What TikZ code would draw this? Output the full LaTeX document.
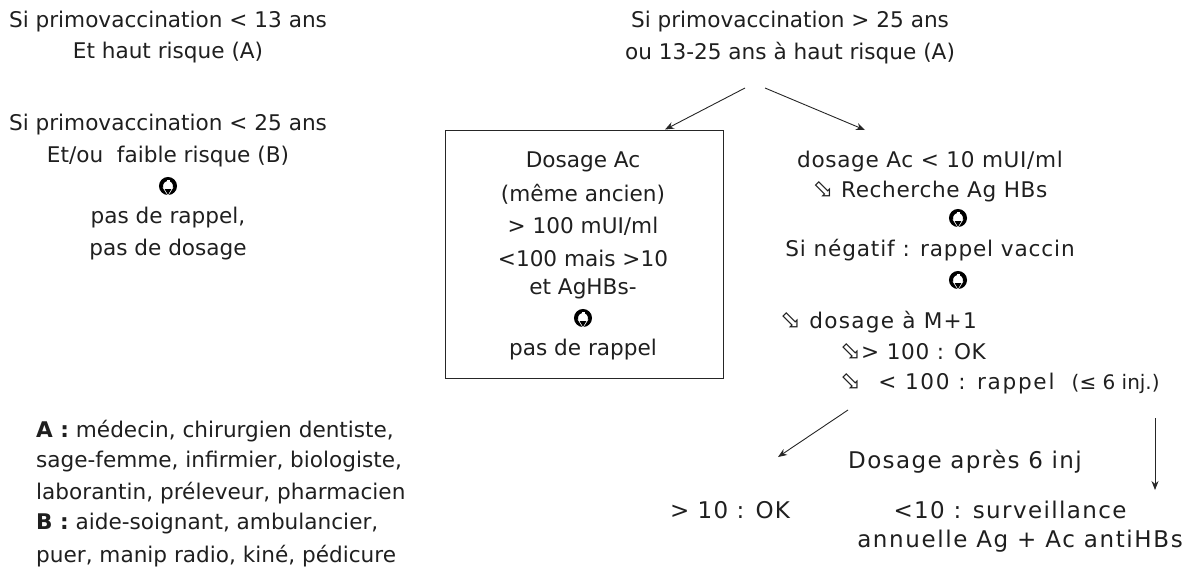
\documentclass[tikz,border=0pt]{standalone}
\usepackage{fontspec}
\setmainfont{DejaVu Sans}
\usetikzlibrary{arrows.meta}
\tikzset{
  txt/.style={inner sep=0pt, font=\fontsize{21.6}{26}\selectfont, text=black!88},
  lft/.style={txt, anchor=west},
  wide/.style={font=\fontsize{21.6}{26}\selectfont\addfontfeature{LetterSpace=#1}},
  big/.style={font=\fontsize{23}{27}\selectfont\addfontfeature{LetterSpace=#1}},
  arr/.style={draw=black!85, line width=0.9pt, -{Stealth[length=9pt,width=7pt]}},
  circarrow/.pic={
    \draw[line width=4pt] (0,0) circle (7);
    \draw[line width=3pt, white] (0,-6) -- (0,2.5);
    \fill[white] (-5.4,1.4) -- (5.4,1.4) -- (0,10) -- cycle;
    \fill[black] (-3.4,3) -- (3.4,3) -- (0,8.8) -- cycle;
  }
}
\newcommand\harr{{\fontsize{25}{26}\selectfont\addfontfeature{LetterSpace=0}\char"2B02}}
\begin{document}
\begin{tikzpicture}[x=1pt,y=-1pt]
\useasboundingbox (0,0) rectangle (1199,584);
% top left
\node[txt] (l1) at (168,22) {Si primovaccination < 13 ans};
\node[txt] (l2) at (168,53) {Et haut risque (A)};
\node[txt] (l3) at (168,125) {Si primovaccination < 25 ans};
\node[txt] (l4) at (168,157) {Et/ou\ \ faible risque (B)};
\pic at (168,186) {circarrow};
\node[txt] (l5) at (168,218) {pas de rappel,};
\node[txt] (l6) at (168,250) {pas de dosage};
% top right
\node[txt] (r1) at (790,22) {Si primovaccination > 25 ans};
\node[txt] (r2) at (790,53) {ou 13-25 ans à haut risque (A)};
\coordinate (sa) at (745,88);
\coordinate (sb) at (765,88);
% box
\node[draw=black!85, line width=0.9pt, minimum width=278pt, minimum height=248pt, inner sep=0pt] (box) at (584,254) {};
\node[txt] (b1) at (583,162) {Dosage Ac};
\node[txt] (b2) at (583,194) {(même ancien)};
\node[txt] (b3) at (583,226) {> 100 mUI/ml};
\node[txt] (b4) at (583,258) {<100 mais >10};
\node[txt] (b5) at (583,289) {et AgHBs-};
\pic at (583,318) {circarrow};
\node[txt] (b6) at (583,350) {pas de rappel};
% right column
\node[txt, wide=3] (c1) at (930,162) {dosage Ac < 10 mUI/ml};
\node[txt, wide=3] (c2) at (930,192) {\harr\ Recherche Ag HBs};
\pic at (958,218) {circarrow};
\node[txt, wide=4] (c3) at (930,250) {Si négatif : rappel vaccin};
\pic at (958,280) {circarrow};
\node[lft, wide=6] (c4) at (780,322) {\harr\ dosage à M+1};
\node[lft, wide=3] (c5) at (840,352) {\harr> 100 : OK};
\node[lft, wide=8] (c6) at (840,384) {\harr\ \ < 100 : rappel\ \ {\fontsize{20}{22}\selectfont\addfontfeature{LetterSpace=0}(≤ 6 inj.)}};
\draw[arr] (sa) -- (box.north -| 665,0);
\draw[arr] (sb) -- (865,130);
% bottom
\coordinate (d1) at (848,410);
\coordinate (d2) at (1155,418);
\node[txt, big=6] (e1) at (965,462) {Dosage après 6 inj};
\node[txt, big=5] (e2) at (730,510) {> 10 : OK};
\node[txt, big=6] (e3) at (1010,510) {<10 : surveillance};
\node[txt, big=7] (e4) at (1020,541) {annuelle Ag + Ac antiHBs};
\draw[arr] (d1) -- (778,457);
\draw[arr] (d2) -- (1155,490);
% legend
\node[lft] (g1) at (36,431) {\textbf{A :} médecin, chirurgien dentiste,};
\node[lft] (g2) at (36,462) {sage-femme, infirmier, biologiste,};
\node[lft] (g3) at (36,493) {laborantin, préleveur, pharmacien};
\node[lft] (g4) at (36,524) {\textbf{B :} aide-soignant, ambulancier,};
\node[lft] (g5) at (36,556) {puer, manip radio, kiné, pédicure};
\end{tikzpicture}
\end{document}
